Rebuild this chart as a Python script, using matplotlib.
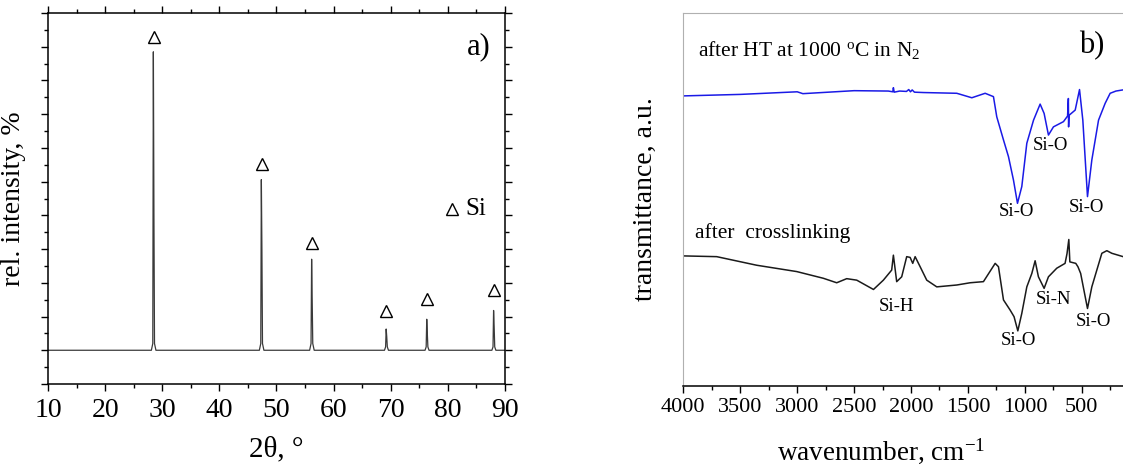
import matplotlib
matplotlib.use('Agg')
import matplotlib.pyplot as plt
from matplotlib.ticker import MultipleLocator, FixedLocator, NullFormatter

plt.rcParams['font.family'] = ['Liberation Serif', 'DejaVu Serif']
plt.rcParams['mathtext.fontset'] = 'custom'
plt.rcParams['mathtext.rm'] = 'Liberation Serif'
plt.rcParams['mathtext.it'] = 'Liberation Serif:italic'

# ---- a) XRD pattern ----
xrd_2theta = [10, 20, 28.1, 28.35, 28.45, 28.55, 28.65, 28.9,
              47.0, 47.25, 47.35, 47.45, 47.55, 47.8,
              55.8, 56.05, 56.15, 56.25, 56.35, 56.6,
              68.9, 69.1, 69.2, 69.3, 69.4, 69.6,
              76.0, 76.2, 76.3, 76.4, 76.5, 76.7,
              87.7, 87.9, 88.0, 88.1, 88.2, 88.4, 90]
xrd_int = [0, 0, 0, 2, 88.5, 40, 2, 0,
           0, 2, 50.6, 30, 2, 0,
           0, 2, 27, 15, 2, 0,
           0, 1, 6.3, 4, 1, 0,
           0, 1, 9.2, 5, 1, 0,
           0, 1, 11.8, 7, 1, 0, 0]
peak_pos = [28.5, 47.4, 56.2, 69.2, 76.3, 88.0]
peak_mark = [93.0, 55.2, 31.7, 11.7, 15.1, 17.8]

# ---- b) FTIR spectra ----
ht_wn = [4000, 3500, 3000, 2950, 2500, 2200, 2160, 2155, 2148, 2100, 2040, 2020,
         2005, 1990, 1970, 1891, 1598, 1466, 1349, 1276, 1247, 1188, 1144, 1100,
         1065, 1027, 983, 924, 866, 831, 793, 749, 661, 625, 618, 616, 612, 558,
         520, 491, 450, 412, 353, 295, 251, 200, 100]
ht_t = [77.7, 78.1, 78.8, 78.3, 79.1, 79.0, 78.8, 79.9, 78.7, 79.0, 78.9, 79.4,
        78.8, 79.3, 78.7, 78.6, 78.4, 77.2, 78.4, 77.5, 72.1, 65.9, 61.4, 55.1,
        48.9, 53.4, 65.0, 71.2, 75.5, 73.0, 67.2, 69.4, 70.8, 72.3, 77.0, 69.4, 72.5, 73.9,
        79.4, 71.2, 50.7, 60.5, 71.2, 75.7, 78.4, 79.0, 79.5]

cl_wn = [4000, 3707, 3356, 3004, 2770, 2653, 2565, 2477, 2330, 2243, 2170, 2155,
         2126, 2082, 2038, 2008, 1985, 1964, 1920, 1862, 1774, 1598, 1481, 1364,
         1261, 1232, 1188, 1130, 1095, 1062, 1027, 983, 939, 910, 881, 831, 793,
         720, 647, 630, 614, 605, 553, 534, 510, 450, 412, 368, 324, 280, 236, 137, 0]
cl_t = [34.8, 34.6, 32.3, 30.6, 28.8, 27.6, 28.7, 28.3, 25.8, 28.3, 31.0, 35.0,
        27.9, 29.2, 34.6, 34.4, 32.8, 34.6, 31.9, 28.3, 26.5, 27.0, 27.6, 27.9,
        32.8, 31.9, 23.0, 20.3, 18.5, 14.7, 19.4, 26.5, 30.1, 33.5, 29.2, 26.1, 29.2,
        31.5, 32.8, 35.4, 39.2, 33.2, 32.8, 31.9, 30.1, 20.7, 26.5, 31.0, 35.5, 36.2, 35.5, 34.6, 34.5]

band_labels = ['Si-O', 'Si-O', 'Si-O', 'Si-H', 'Si-O', 'Si-N', 'Si-O']
band_wn = [1071, 778, 456, 2131, 1056, 749, 397]
band_t = [46.6, 64.4, 47.8, 21.2, 12.2, 23.1, 17.1]

ir_ticks = [4000, 3500, 3000, 2500, 2000, 1500, 1000, 500]

fig = plt.figure(figsize=(11.23, 4.66), dpi=100)

# ---------- panel a ----------
ax1 = fig.add_axes([0.0427, 0.176, 0.407, 0.796])
ax1.plot(xrd_2theta, xrd_int, color='#3a3a3a', linewidth=0.9)
ax1.plot(peak_pos, peak_mark, linestyle='none', marker='^', markersize=9,
         markerfacecolor='none', markeredgecolor='black', markeredgewidth=1.0)
ax1.plot([80.7], [41.8], linestyle='none', marker='^', markersize=9,
         markerfacecolor='none', markeredgecolor='black', markeredgewidth=1.0)
ax1.text(83.0, 41.8, 'Si', fontsize=18, va='center', ha='left')
ax1.text(87.5, 90, 'a)', fontsize=22, va='center', ha='right')
ax1.set_xlim(10, 90)
ax1.set_ylim(-10, 100)
ax1.xaxis.set_major_locator(MultipleLocator(10))
ax1.xaxis.set_minor_locator(MultipleLocator(5))
ax1.yaxis.set_major_locator(MultipleLocator(10))
ax1.yaxis.set_minor_locator(MultipleLocator(5))
ax1.yaxis.set_major_formatter(NullFormatter())
ax1.tick_params(which='both', direction='out', top=True, right=True, width=1.0)
ax1.tick_params(which='major', length=5, labelsize=20, pad=5)
ax1.tick_params(which='minor', length=3)
for s in ax1.spines.values():
    s.set_linewidth(1.1)
ax1.set_xlabel('2θ, °', fontsize=21, labelpad=10)
ax1.set_ylabel('rel. intensity, %', fontsize=20, labelpad=6)

# ---------- panel b ----------
ax2 = fig.add_axes([0.6085, 0.1723, 0.4055, 0.8004])
ax2.plot(ht_wn, ht_t, color='#1a1ae6', linewidth=1.1)
ax2.plot(cl_wn, cl_t, color='#1a1a1a', linewidth=1.1)
for lab, w, t in zip(band_labels, band_wn, band_t):
    ax2.text(w, t, lab, fontsize=13.5, ha='center', va='center')
ax2.text(3868, 90, 'after HT at 1000 $^{\\rm o}$C in N$_2$', fontsize=15.5, ha='left', va='center')
ax2.text(3897, 40.8, 'after  crosslinking', fontsize=15.5, ha='left', va='center')
ax2.text(412, 91.3, 'b)', fontsize=22, ha='center', va='center')
ax2.set_xlim(4000, 0)
ax2.set_ylim(0, 100)
ax2.xaxis.set_major_locator(FixedLocator(ir_ticks))
ax2.xaxis.set_minor_locator(MultipleLocator(250))
ax2.set_yticks([])
ax2.tick_params(which='both', direction='out', width=1.0)
ax2.tick_params(which='major', length=5, labelsize=16)
ax2.tick_params(which='minor', length=3)
ax2.spines['left'].set_color('#b0b0b0')
ax2.spines['top'].set_color('#b0b0b0')
ax2.spines['right'].set_visible(False)
ax2.spines['bottom'].set_linewidth(1.1)
ax2.set_xlabel('wavenumber, cm$^{-1}$', fontsize=19.5)
ax2.xaxis.set_label_coords(0.435, -0.135)
ax2.set_ylabel('transmittance, a.u.', fontsize=20, labelpad=18)

fig.savefig('out.png', dpi=100)
